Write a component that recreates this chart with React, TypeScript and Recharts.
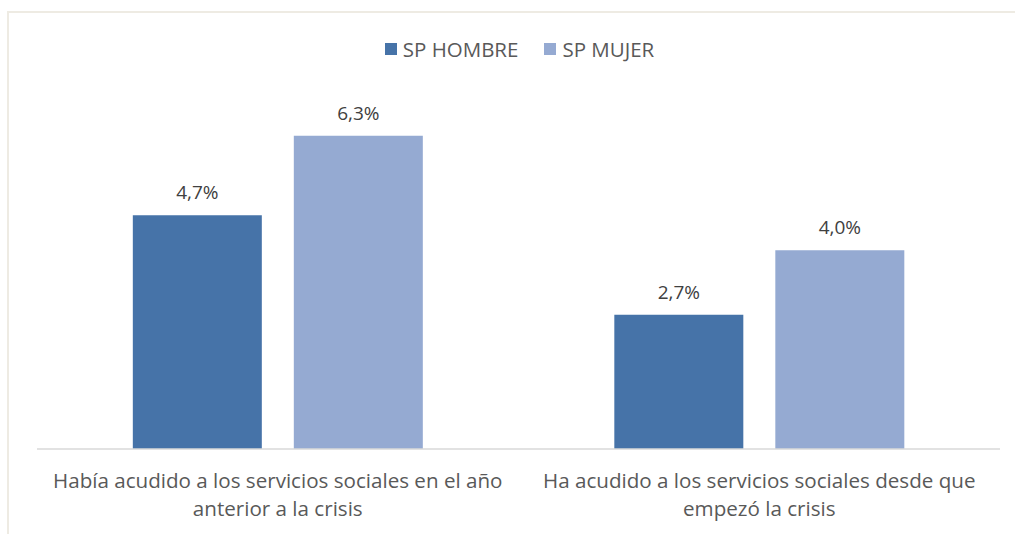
import React from "react";
import { BarChart, Bar, XAxis, YAxis, Legend, LabelList } from "recharts";

const categories = [
  "Había acudido a los servicios sociales en el año anterior a la crisis",
  "Ha acudido a los servicios sociales desde que empezó la crisis",
];
const hombreValues = [4.7, 2.7];
const mujerValues = [6.3, 4.0];
const seriesNames = ["SP HOMBRE", "SP MUJER"];
const seriesColors = ["#4673A8", "#95AAD2"];

const data = categories.map((c, i) => ({
  category: c,
  hombre: hombreValues[i],
  mujer: mujerValues[i],
}));

const FONT = "'Open Sans', Lato, sans-serif";
const TICK_FS = 20.6;
const WRAP_W = 480;

const fmt = (v: any) => `${Number(v).toFixed(1).replace(".", ",")}%`;

let ctx: CanvasRenderingContext2D | null = null;
const measure = (s: string) => {
  if (!ctx) {
    const c = document.createElement("canvas");
    ctx = c.getContext("2d");
  }
  if (!ctx) return s.length * TICK_FS * 0.5;
  ctx.font = `${TICK_FS}px 'Open Sans'`;
  return ctx.measureText(s).width;
};

const wrap = (s: string) => {
  const words = s.split(" ");
  const lines: string[] = [];
  let cur = "";
  words.forEach((w) => {
    const test = cur ? cur + " " + w : w;
    if (cur && measure(test) > WRAP_W) {
      lines.push(cur);
      cur = w;
    } else cur = test;
  });
  if (cur) lines.push(cur);
  return lines;
};

const CategoryTick = (props: any) => {
  const { x, y, payload } = props;
  const lines = wrap(String(payload.value));
  return (
    <text
      x={x}
      y={y + 17}
      textAnchor="middle"
      fontSize={TICK_FS}
      fontFamily={FONT}
      fill="#595959"
    >
      {lines.map((l, i) => (
        <tspan key={i} x={x} dy={i === 0 ? "0.7em" : 28}>
          {l}
        </tspan>
      ))}
    </text>
  );
};

const LegendContent = () => (
  <div
    style={{
      display: "flex",
      justifyContent: "center",
      alignItems: "center",
      gap: 26,
      fontFamily: FONT,
      fontSize: 20.5,
      color: "#595959",
      paddingLeft: 24,
    }}
  >
    {seriesNames.map((n, i) => (
      <div key={n} style={{ display: "flex", alignItems: "center" }}>
        <span
          style={{
            display: "inline-block",
            width: 12,
            height: 12,
            background: seriesColors[i],
            marginRight: 6,
          }}
        />
        <span>{n}</span>
      </div>
    ))}
  </div>
);

export default function App() {
  return (
    <div
      style={{
        position: "absolute",
        left: 0,
        top: 0,
        width: 1015,
        height: 534,
        background: "#fff",
      }}
    >
      <div
        style={{
          position: "absolute",
          left: 7,
          top: 11,
          right: 0,
          bottom: 0,
          borderLeft: "2px solid #EEEBE3",
          borderTop: "2px solid #EEEBE3",
        }}
      />
      <div style={{ position: "absolute", left: 0, top: 0 }}>
        <BarChart
          width={1015}
          height={534}
          data={data}
          margin={{ top: 73, right: 15, bottom: 0, left: 37 }}
          barCategoryGap="19.9%"
          barGap={32}
        >
          <Legend
            verticalAlign="top"
            align="center"
            content={LegendContent}
            wrapperStyle={{ top: 35, left: 0, width: 1015 }}
          />
          <XAxis
            dataKey="category"
            height={85}
            tickLine={false}
            axisLine={{ stroke: "#D9D9D9", strokeWidth: 1.5 }}
            tick={CategoryTick}
            interval={0}
          />
          <YAxis hide domain={[0, 7]} width={0} />
          <Bar dataKey="hombre" name={seriesNames[0]} fill={seriesColors[0]} isAnimationActive={false}>
            <LabelList
              dataKey="hombre"
              position="top"
              offset={16}
              formatter={fmt}
              style={{ fontFamily: FONT, fontSize: 19, fill: "#404040" }}
            />
          </Bar>
          <Bar dataKey="mujer" name={seriesNames[1]} fill={seriesColors[1]} isAnimationActive={false}>
            <LabelList
              dataKey="mujer"
              position="top"
              offset={16}
              formatter={fmt}
              style={{ fontFamily: FONT, fontSize: 19, fill: "#404040" }}
            />
          </Bar>
        </BarChart>
      </div>
    </div>
  );
}
